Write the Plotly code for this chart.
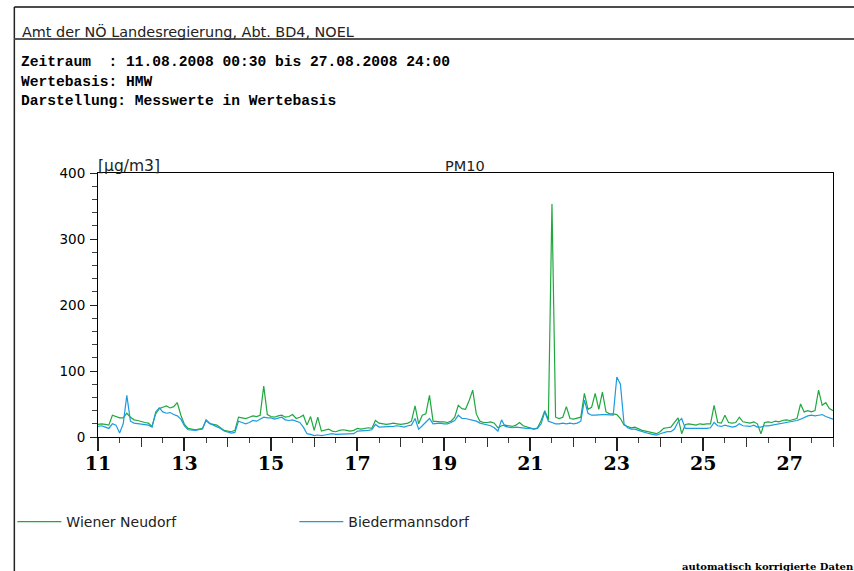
import numpy as np
import plotly.graph_objects as go

# PM10 [µg/m3], 2-hour means from 11.08.2008 00:00 to 28.08.2008 00:00 (one row per day)
wiener_neudorf = [
    19, 20, 19, 18, 33, 31, 29, 29, 36, 30, 26, 25,      # 11
    23, 22, 21, 16, 35, 43, 45, 47, 44, 46, 52, 33,      # 12
    19, 13, 12, 11, 12, 13, 25, 20, 19, 18, 14, 10,      # 13
    9, 8, 10, 30, 29, 28, 30, 32, 31, 33, 77, 34,        # 14
    31, 30, 32, 33, 30, 31, 34, 28, 30, 33, 18, 31,      # 15
    10, 30, 9, 10, 12, 9, 8, 10, 11, 10, 9, 10,          # 16
    13, 12, 13, 14, 13, 25, 21, 20, 19, 20, 21, 20,      # 17
    19, 20, 21, 24, 47, 20, 33, 35, 63, 24, 23, 23,      # 18
    23, 22, 24, 30, 48, 43, 42, 55, 71, 35, 24, 22,      # 19
    22, 23, 21, 14, 17, 18, 17, 16, 18, 22, 17, 15,      # 20
    13, 12, 14, 25, 40, 26, 353, 30, 28, 30, 46, 28,     # 21
    27, 28, 30, 66, 42, 45, 66, 42, 68, 38, 35, 35,      # 22
    34, 28, 18, 16, 14, 15, 12, 10, 9, 8, 6, 5,          # 23
    8, 13, 14, 15, 22, 29, 5, 19, 20, 19, 18, 20,        # 24
    19, 20, 20, 48, 22, 21, 33, 22, 21, 22, 30, 23,      # 25
    22, 21, 23, 20, 5, 22, 23, 22, 24, 23, 25, 26,       # 26
    25, 27, 28, 50, 38, 40, 38, 40, 71, 48, 52, 43,      # 27
    40,                                                  # 28 00:00
]

biedermannsdorf = [
    16, 17, 15, 13, 20, 18, 6, 20, 63, 24, 21, 20,       # 11
    19, 18, 18, 15, 38, 44, 38, 36, 37, 34, 32, 27,      # 12
    17, 11, 10, 10, 11, 12, 26, 21, 18, 16, 13, 9,       # 13
    8, 6, 7, 24, 22, 20, 22, 25, 24, 27, 30, 29,         # 14
    29, 27, 28, 30, 26, 25, 26, 24, 22, 15, 5, 4,        # 15
    2, 3, 2, 3, 4, 5, 4, 4, 5, 4, 4, 5,                  # 16
    9, 9, 10, 10, 11, 19, 15, 15, 16, 15, 16, 17,        # 17
    16, 15, 17, 18, 28, 12, 17, 22, 28, 20, 21, 21,      # 18
    20, 20, 22, 25, 33, 28, 28, 27, 25, 24, 21, 20,      # 19
    19, 17, 14, 9, 26, 16, 15, 14, 15, 14, 13, 13,       # 20
    13, 12, 13, 20, 38, 24, 22, 20, 20, 21, 20, 21,      # 21
    20, 21, 24, 56, 36, 33, 33, 34, 34, 34, 33, 33,      # 22
    91, 80, 20, 14, 12, 12, 10, 8, 6, 5, 4, 3,           # 23
    5, 7, 8, 8, 12, 23, 28, 13, 13, 12, 13, 13,          # 24
    13, 13, 14, 22, 17, 16, 18, 16, 15, 16, 20, 17,      # 25
    17, 16, 18, 15, 15, 17, 17, 18, 18, 19, 20, 22,      # 26
    22, 24, 25, 27, 30, 32, 33, 32, 33, 34, 31, 29,      # 27
    27,                                                  # 28 00:00
]

FIRST_DAY = 11
LAST_DAY = 28
STEP_HOURS = 2

label_days = list(range(11, 28, 2))      # labelled (long) ticks
even_days = list(range(12, 29, 2))       # medium ticks
value_ticks = [0, 100, 200, 300, 400]

GREEN = "#1fa83d"
BLUE = "#1d9be0"

days = FIRST_DAY + np.arange(len(wiener_neudorf)) * STEP_HOURS / 24.0

fig = go.Figure()
fig.add_trace(go.Scatter(
    x=days, y=wiener_neudorf, mode="lines", name="Wiener Neudorf",
    line=dict(color=GREEN, width=1.2),
))
fig.add_trace(go.Scatter(
    x=days, y=biedermannsdorf, mode="lines", name="Biedermannsdorf",
    line=dict(color=BLUE, width=1.2),
))

# page geometry (pixels) used to place header, frame and footer in paper units
W, H = 854, 571
ML, MR, MT, MB = 95, 21, 173, 134
PW, PH = W - ML - MR, H - MT - MB


def px(x):
    return (x - ML) / PW


def py(y):
    return (H - MB - y) / PH


fig.update_layout(
    width=W, height=H,
    margin=dict(l=ML, r=MR, t=MT, b=MB, pad=0),
    paper_bgcolor="white", plot_bgcolor="white",
    showlegend=True,
    legend=dict(
        orientation="h", x=px(9), y=py(522), xanchor="left", yanchor="middle",
        entrywidth=223, entrywidthmode="pixels", itemwidth=44,
        font=dict(family="DejaVu Sans", size=14, color="#222"),
        bgcolor="rgba(0,0,0,0)", traceorder="normal",
    ),
    xaxis=dict(
        range=[FIRST_DAY, LAST_DAY], showgrid=False, zeroline=False,
        showline=True, linecolor="black", linewidth=1, mirror=True,
        ticks="outside", ticklen=13, tickwidth=1.5, tickcolor="#222",
        tickvals=label_days, ticktext=[f"<b>{d}</b>" for d in label_days],
        tickfont=dict(family="DejaVu Serif", size=19, color="black"),
        ticklabelstandoff=-4,
        minor=dict(dtick=0.5, tick0=11, ticklen=5, tickwidth=1, tickcolor="#444",
                   ticks="outside", showgrid=False),
    ),
    xaxis2=dict(
        range=[FIRST_DAY, LAST_DAY], overlaying="x", anchor="y", side="bottom",
        showgrid=False, zeroline=False, showline=False,
        ticks="outside", ticklen=9, tickwidth=1.3, tickcolor="#333",
        tickvals=even_days, showticklabels=False,
    ),
    yaxis=dict(
        range=[0, 400], showgrid=False, zeroline=False,
        showline=True, linecolor="black", linewidth=1, mirror=True,
        ticks="outside", ticklen=7, tickwidth=1.2, tickcolor="#222",
        tickvals=value_ticks, ticklabelstandoff=2,
        tickfont=dict(family="DejaVu Sans", size=13.5, color="black"),
        minor=dict(dtick=20, ticklen=5, tickwidth=1, tickcolor="#444",
                   ticks="outside", showgrid=False),
    ),
)

# empty helper trace so the medium-tick axis is drawn
fig.add_trace(go.Scatter(x=[], y=[], xaxis="x2", yaxis="y", showlegend=False,
                         hoverinfo="skip"))

# page frame and header rule
frame = [
    dict(x0=px(11), x1=px(11), y0=py(7), y1=py(575), color="#222", width=1.5),
    dict(x0=px(11), x1=px(860), y0=py(7), y1=py(7), color="#111", width=1.5),
    dict(x0=px(11), x1=px(860), y0=py(39), y1=py(39), color="#555", width=1.8),
]
for f in frame:
    fig.add_shape(type="line", xref="paper", yref="paper",
                  x0=f["x0"], x1=f["x1"], y0=f["y0"], y1=f["y1"],
                  line=dict(color=f["color"], width=f["width"]))

sans = dict(family="DejaVu Sans", size=14, color="#222")
mono_b = dict(family="Liberation Mono", size=14.6, color="black")

texts = [
    ("Amt der NÖ Landesregierung, Abt. BD4, NOEL", 18, 31, dict(sans, size=14.4)),
    ("<b>Zeitraum  : 11.08.2008 00:30 bis 27.08.2008 24:00</b>", 17, 62, mono_b),
    ("<b>Wertebasis: HMW</b>", 17, 82, mono_b),
    ("<b>Darstellung: Messwerte in Wertebasis</b>", 17, 101, mono_b),
    ("[µg/m3]", 94, 166, dict(sans, size=15.5)),
    ("PM10", 442, 166, dict(sans, size=14.5)),
    ("<b>automatisch korrigierte Daten</b>", 680, 566,
     dict(family="DejaVu Serif", size=10, color="black")),
]
for txt, x, y, font in texts:
    fig.add_annotation(text=txt, xref="paper", yref="paper", x=px(x), y=py(y),
                       xanchor="left", yanchor="middle", showarrow=False,
                       font=font, borderpad=0)

fig.write_html("out.html")
